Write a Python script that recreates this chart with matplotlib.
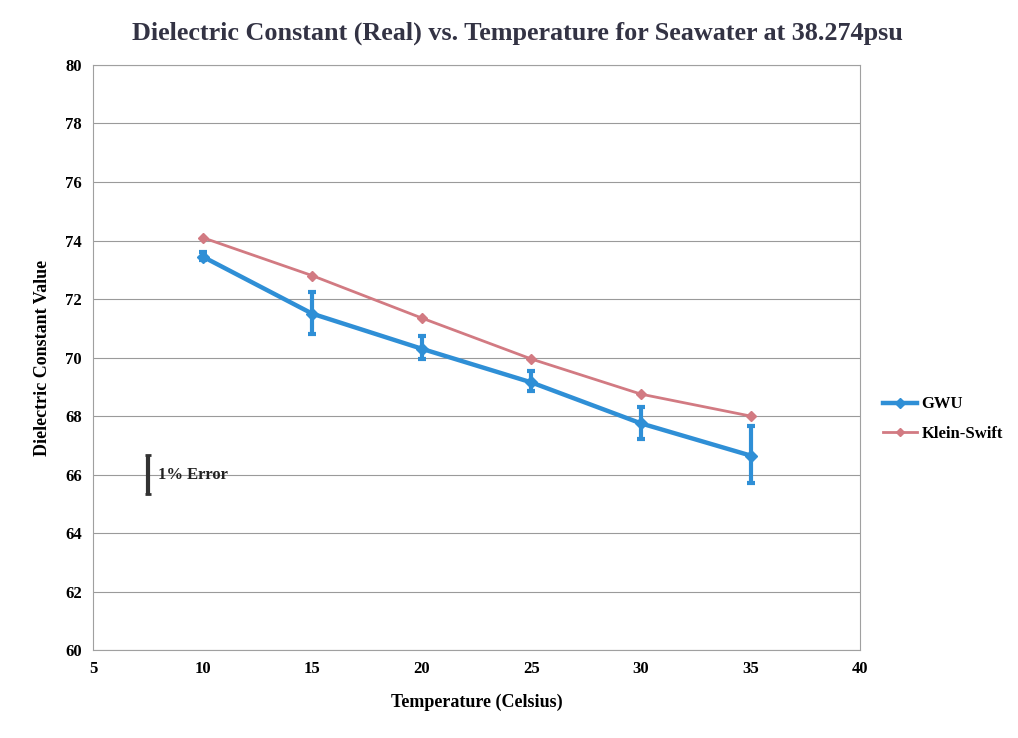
import matplotlib
matplotlib.use("Agg")
import matplotlib.pyplot as plt
from matplotlib.lines import Line2D

temps = [10, 15, 20, 25, 30, 35]
gwu = [73.45, 71.5, 70.3, 69.15, 67.75, 66.65]
gwu_lo = [73.35, 70.8, 69.95, 68.85, 67.2, 65.7]
gwu_hi = [73.6, 72.25, 70.75, 69.55, 68.3, 67.65]
klein = [74.1, 72.8, 71.35, 69.95, 68.75, 68.0]
ref_x, ref_y, ref_err = 7.5, 66.0, 0.66

BLUE = "#2f8fd6"
PINK = "#d27a82"
SERIF = ["Liberation Serif", "DejaVu Serif"]

plt.rcParams["font.family"] = SERIF
fig = plt.figure(figsize=(10.18, 7.38), dpi=100)
ax = fig.add_axes([0.0914, 0.119, 0.7536, 0.793])

yerr = [[g - l for g, l in zip(gwu, gwu_lo)], [h - g for g, h in zip(gwu, gwu_hi)]]
ax.errorbar(temps, gwu, yerr=yerr, color=BLUE, lw=3.2, marker="D", ms=6,
            elinewidth=3, capsize=3, capthick=3, zorder=3)
ax.plot(temps, klein, color=PINK, lw=2, marker="D", ms=5, zorder=2)

ax.errorbar([ref_x], [ref_y], yerr=ref_err, color="#333333", elinewidth=3,
            capsize=2, capthick=2, fmt="none")
ax.text(ref_x + 0.45, ref_y, "1% Error", fontsize=12, fontweight="bold",
        va="center", ha="left", color="#222222")

ax.set_xlim(5, 40)
ax.set_ylim(60, 80)
ax.set_xticks(range(5, 41, 5))
ax.set_yticks(range(60, 81, 2))
ax.tick_params(labelsize=12, length=0, pad=8)
for t in ax.get_xticklabels() + ax.get_yticklabels():
    t.set_fontweight("bold")
ax.grid(axis="y", color="#9a9a9a", lw=0.8)
ax.set_axisbelow(True)
for s in ax.spines.values():
    s.set_color("#a0a0a0")
    s.set_linewidth(0.8)

ax.set_xlabel("Temperature (Celsius)", fontsize=13, fontweight="bold", labelpad=12)
ax.set_ylabel("Dielectric Constant Value", fontsize=13, fontweight="bold", labelpad=10)
fig.text(0.508, 0.955,
         "Dielectric Constant (Real) vs. Temperature for Seawater at 38.274psu",
         fontsize=18.8, fontweight="bold", color="#333344", ha="center", va="center")

handles = [Line2D([], [], color=BLUE, lw=3.2, marker="D", ms=5),
           Line2D([], [], color=PINK, lw=2, marker="D", ms=4.5)]
ax.legend(handles, ["GWU", "Klein-Swift"], loc="center left",
          bbox_to_anchor=(1.03, 0.395), frameon=False, borderaxespad=0,
          borderpad=0, handletextpad=0.3, handlelength=2.0, labelspacing=0.8,
          prop={"family": SERIF, "weight": "bold", "size": 12})

fig.savefig("out.png", dpi=100)
